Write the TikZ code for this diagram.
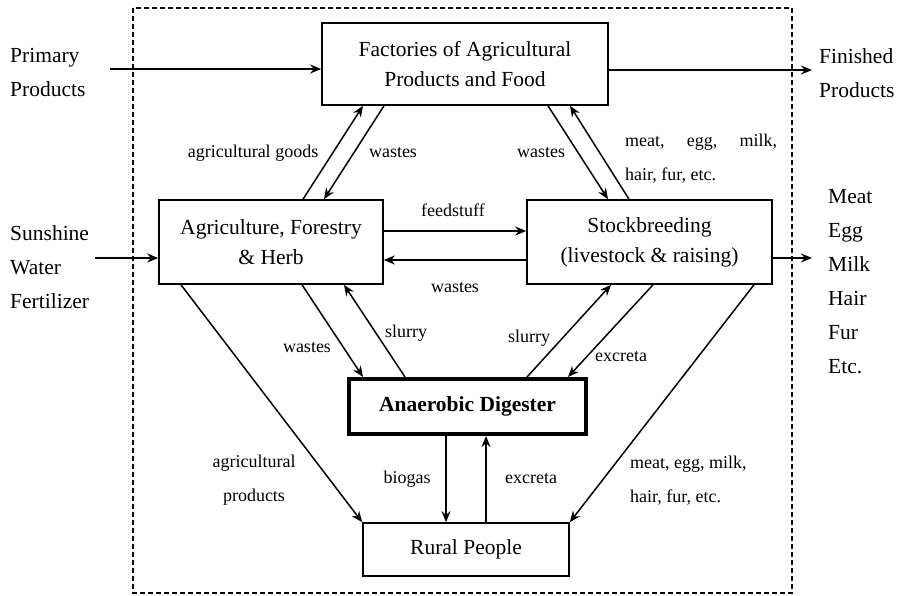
\documentclass[tikz,border=0pt]{standalone}
\usepackage{fontspec}
\setmainfont{Liberation Serif}
\usetikzlibrary{arrows.meta,calc}
\begin{document}
\begin{tikzpicture}[x=1pt,y=-1pt,
  box/.style={draw,line width=1.6pt,inner sep=0pt,align=center,font=\fontsize{21.5}{30}\selectfont},
  conn/.style={line width=1.5pt,-{Stealth[length=11pt,width=9pt]}},
  thick conn/.style={conn,line width=2pt},
  lbl/.style={inner sep=0pt,anchor=base,font=\fontsize{18}{33}\selectfont},
  lblml/.style={inner sep=0pt,anchor=north west,align=left,font=\fontsize{18}{33.5}\selectfont},
  side/.style={inner sep=0pt,anchor=north west,align=left,font=\fontsize{21.5}{34}\selectfont}]
\useasboundingbox (0,0) rectangle (901,596);
\draw[line width=1.4pt,dash pattern=on 5pt off 3pt] (133,8) rectangle (792,593);
% boxes
\node[box,minimum width=286pt,minimum height=82pt] (fact) at (465,64) {Factories of Agricultural\\Products and Food};
\node[box,minimum width=224pt,minimum height=84pt] (agri) at (271,242) {Agriculture, Forestry\\\& Herb};
\node[box,minimum width=245pt,minimum height=84pt] (stock) at (649.5,242) {Stockbreeding\\(livestock \& raising)};
\node[box,line width=4pt,minimum width=237pt,minimum height=55pt,font=\fontsize{21.5}{30}\selectfont\bfseries] (dig) at (467.5,406.5) {Anaerobic Digester};
\node[box,minimum width=206pt,minimum height=53pt] (rural) at (466,549.5) {Rural People};
% outside texts
\node[side] (prim) at (10,48) {Primary\\Products};
\node[side] (sun) at (10,225) {Sunshine\\Water\\Fertilizer};
\node[side] (fin) at (819,48) {Finished\\Products};
\node[side] (out) at (828,189) {Meat\\Egg\\Milk\\Hair\\Fur\\Etc.};
% in/out arrows
\coordinate (p1) at (110,69);
\coordinate (f2) at (812,70);
\coordinate (s1) at (95,258);
\coordinate (m1) at (812,258);
\draw[thick conn] (p1) -- (p1 -| fact.west);
\draw[thick conn] (f2 -| fact.east) -- (f2);
\draw[thick conn] (s1) -- (s1 -| agri.west);
\draw[thick conn] (m1 -| stock.east) -- (m1);
% factories links
\draw[conn] ([xshift=32pt]agri.north) -- ([xshift=-102pt]fact.south);
\draw[conn] ([xshift=-81pt]fact.south) -- ([xshift=53pt]agri.north);
\draw[conn] ([xshift=83pt]fact.south) -- ([xshift=-41.5pt]stock.north);
\draw[conn] ([xshift=-20.5pt]stock.north) -- ([xshift=105pt]fact.south);
% agri-stock
\draw[thick conn] ([yshift=11pt]agri.east) -- ([yshift=11pt]stock.west);
\draw[thick conn] ([yshift=-18pt]stock.west) -- ([yshift=-18pt]agri.east);
% digester links
\draw[conn] ([xshift=31pt]agri.south) -- ([xshift=-104.5pt]dig.north);
\draw[conn] ([xshift=-62.5pt]dig.north) -- ([xshift=73pt]agri.south);
\draw[conn] ([xshift=59.5pt]dig.north) -- ([xshift=-38.5pt]stock.south);
\draw[conn] ([xshift=3.5pt]stock.south) -- ([xshift=100.5pt]dig.north);
% rural links
\draw[conn] ([xshift=-90pt]agri.south) -- (rural.north west);
\draw[conn] ([xshift=104.5pt]stock.south) -- (rural.north east);
\draw[thick conn] ([xshift=-21.5pt]dig.south) -- ([xshift=-21.5pt]dig.south |- rural.north);
\draw[thick conn] ([xshift=20pt]rural.north) -- ([xshift=20pt]rural.north |- dig.south);
% labels
\node[lbl] (l1) at (253,158) {agricultural goods};
\node[lbl] (l2) at (393,158) {wastes};
\node[lbl] (l3) at (541,158) {wastes};
\node[lblml] (l4) at (625,134) {\makebox[152pt][s]{meat, egg, milk,}\\hair, fur, etc.};
\node[lbl] (l5) at (453,216) {feedstuff};
\node[lbl] (l6) at (455,292) {wastes};
\node[lbl] (l7) at (307,352) {wastes};
\node[lbl] (l8) at (406,337) {slurry};
\node[lbl] (l9) at (529,342) {slurry};
\node[lbl,anchor=base west] (l10) at (595,361) {excreta};
\node[lblml,anchor=north,align=center] (l11) at (254,455) {agricultural\\products};
\node[lbl] (l12) at (407,483) {biogas};
\node[lbl] (l13) at (531,483) {excreta};
\node[lblml] (l14) at (630,456) {meat, egg, milk,\\hair, fur, etc.};
\end{tikzpicture}
\end{document}
